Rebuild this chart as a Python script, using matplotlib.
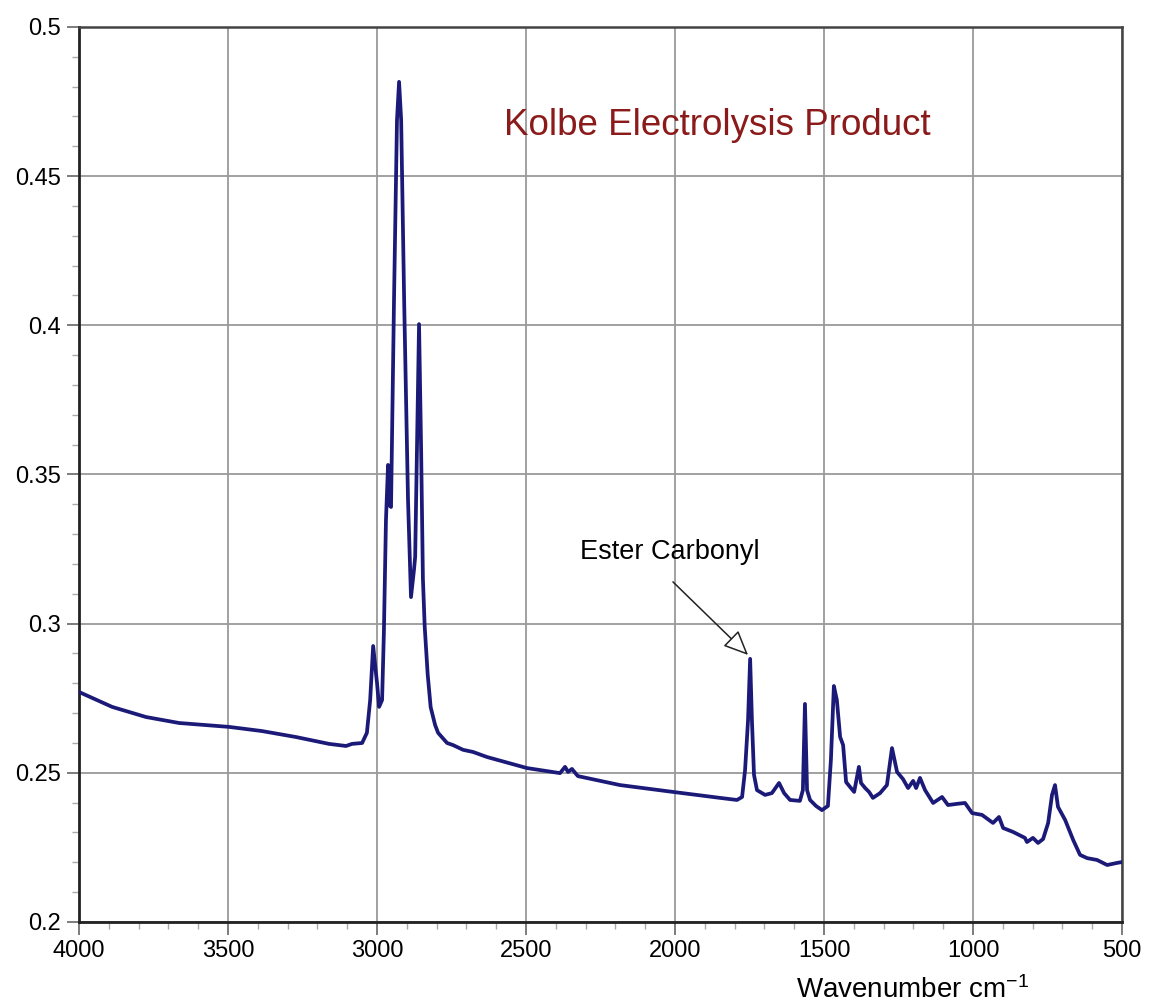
import numpy as np
import matplotlib
matplotlib.use("Agg")
import matplotlib.pyplot as plt
from matplotlib.ticker import MultipleLocator

plt.rcParams['font.family'] = ['Liberation Sans', 'DejaVu Sans']
plt.rcParams['mathtext.fontset'] = 'custom'
plt.rcParams['mathtext.rm'] = 'Liberation Sans'
plt.rcParams['mathtext.it'] = 'Liberation Sans'

# IR spectrum, wavenumber (cm-1) vs absorbance
wavenumber = [
    4000, 3889, 3775, 3664, 3497, 3386, 3272, 3161, 3104, 3084, 3050, 3034,
    3023, 3013, 3000, 2993, 2983, 2977, 2970, 2963, 2960, 2953, 2943, 2933,
    2926, 2919, 2909, 2896, 2886, 2876, 2872, 2866, 2859, 2852, 2846, 2840,
    2830, 2820, 2805, 2795, 2765, 2745, 2711, 2678, 2631, 2497, 2386, 2369,
    2359, 2346, 2326, 2185, 2007, 1849, 1792, 1775, 1765, 1755, 1748, 1742,
    1735, 1725, 1698, 1675, 1651, 1634, 1614, 1581, 1571, 1564, 1557, 1547,
    1527, 1507, 1487, 1477, 1467, 1457, 1446, 1436, 1426, 1413, 1399, 1383,
    1376, 1362, 1349, 1336, 1312, 1289, 1272, 1255, 1235, 1218, 1201, 1191,
    1178, 1161, 1134, 1104, 1084, 1054, 1027, 1003, 970, 933, 913, 899, 866,
    826, 819, 799, 782, 765, 748, 735, 725, 715, 691, 664, 641, 617, 584,
    550, 517, 500,
]
absorbance = [
    0.2771, 0.2721, 0.2687, 0.2667, 0.2654, 0.2640, 0.2620, 0.2597, 0.2590,
    0.2597, 0.2600, 0.2634, 0.2744, 0.2925, 0.2801, 0.2721, 0.2744, 0.2969,
    0.3347, 0.3532, 0.3398, 0.3391, 0.4085, 0.4688, 0.4816, 0.4688, 0.4085,
    0.3415, 0.3089, 0.3180, 0.3224, 0.3582, 0.4004, 0.3582, 0.3150, 0.2990,
    0.2830, 0.2720, 0.2660, 0.2634, 0.2600, 0.2593, 0.2577, 0.2570, 0.2553,
    0.2516, 0.2499, 0.2520, 0.2503, 0.2513, 0.2489, 0.2459, 0.2436, 0.2416,
    0.2409, 0.2419, 0.2509, 0.2677, 0.2882, 0.2677, 0.2493, 0.2442, 0.2426,
    0.2432, 0.2466, 0.2432, 0.2409, 0.2406, 0.2442, 0.2731, 0.2442, 0.2409,
    0.2389, 0.2375, 0.2389, 0.2543, 0.2791, 0.2744, 0.2620, 0.2593, 0.2469,
    0.2453, 0.2436, 0.2520, 0.2466, 0.2449, 0.2436, 0.2416, 0.2432, 0.2459,
    0.2583, 0.2503, 0.2479, 0.2449, 0.2473, 0.2449, 0.2483, 0.2442, 0.2399,
    0.2419, 0.2392, 0.2396, 0.2399, 0.2365, 0.2359, 0.2332, 0.2352, 0.2315,
    0.2302, 0.2282, 0.2268, 0.2282, 0.2265, 0.2278, 0.2332, 0.2426, 0.2459,
    0.2386, 0.2342, 0.2275, 0.2225, 0.2214, 0.2208, 0.2191, 0.2198, 0.2201,
]

x_ticks = [4000, 3500, 3000, 2500, 2000, 1500, 1000, 500]
y_ticks = [0.2, 0.25, 0.3, 0.35, 0.4, 0.45, 0.5]
y_labels = ['0.2', '0.25', '0.3', '0.35', '0.4', '0.45', '0.5']

title = 'Kolbe Electrolysis Product'
peak_label = 'Ester Carbonyl'
peak_pos = (1755, 0.2895)
label_tail = (2007, 0.3140)
label_pos = (2017, 0.324)

fig = plt.figure(figsize=(11.5, 10.06), dpi=100)
ax = fig.add_axes([0.0687, 0.0835, 0.9070, 0.8897])

ax.plot(wavenumber, absorbance, color='#1c1a78', lw=2.7,
        solid_joinstyle='round', solid_capstyle='round', zorder=3)

ax.set_xlim(4000, 500)
ax.set_ylim(0.2, 0.5)
ax.set_xticks(x_ticks)
ax.set_yticks(y_ticks)
ax.set_yticklabels(y_labels)
ax.xaxis.set_minor_locator(MultipleLocator(100))
ax.yaxis.set_minor_locator(MultipleLocator(0.01))

ax.grid(True, which='major', color='#9a9a9a', lw=1.3, zorder=1)
ax.tick_params(which='major', direction='out', length=9, width=1.2, color='#666666',
               labelsize=17, pad=4)
ax.tick_params(which='minor', direction='out', length=5, width=1.0, color='#aaaaaa')
ax.tick_params(axis='x', which='both', top=False)
ax.tick_params(axis='y', which='both', right=False)
for side in ['left', 'bottom']:
    ax.spines[side].set_linewidth(2.0)
    ax.spines[side].set_color('#222222')
for side in ['top', 'right']:
    ax.spines[side].set_linewidth(1.8)
    ax.spines[side].set_color('#444444')

ax.text(1859, 0.467, title, color='#8b1a1a', fontsize=26.5, ha='center', va='center')

# label for the carbonyl band, hollow arrow head
ax.text(*label_pos, peak_label, fontsize=19.5, ha='center', va='center')
ax.annotate('', xy=peak_pos, xytext=label_tail,
            arrowprops=dict(arrowstyle='-|>,head_length=0.9,head_width=0.4',
                            fc='white', ec='#222222', lw=1.1,
                            mutation_scale=17, shrinkA=0, shrinkB=0))

fig.text(913 / 1150, 1 - 990 / 1006, r'Wavenumber cm$^{\mathrm{-1}}$',
         fontsize=20, ha='center', va='center')

fig.savefig('out.png', dpi=100, facecolor='white')
